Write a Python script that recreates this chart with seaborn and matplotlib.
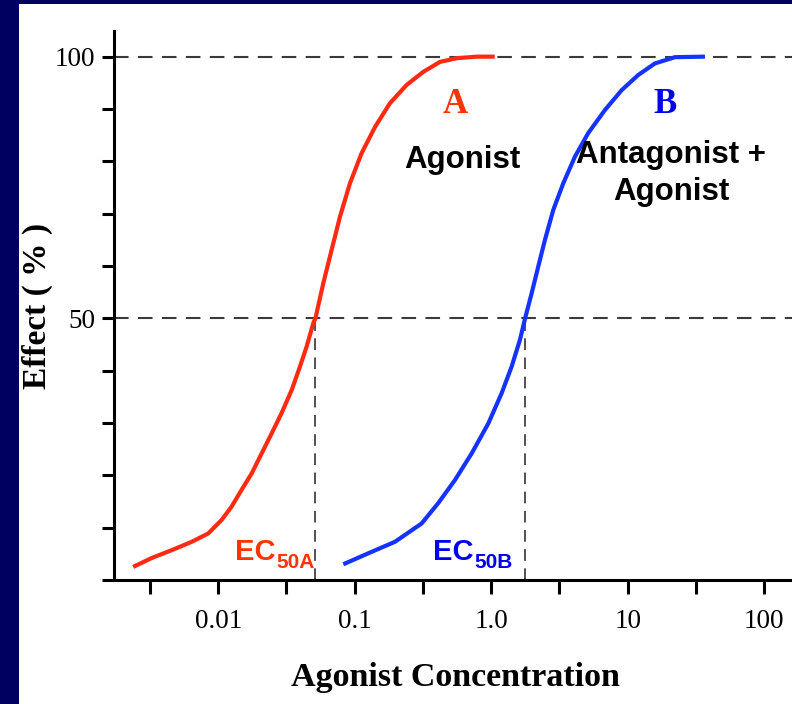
import numpy as np
import pandas as pd
import matplotlib
matplotlib.use("Agg")
import matplotlib.pyplot as plt
import seaborn as sns
from matplotlib.patches import Rectangle
from matplotlib.ticker import FixedLocator, FixedFormatter, NullLocator

# ---- data ----
conc_a = [0.00238, 0.00325, 0.00456, 0.00639, 0.00845, 0.0106, 0.0125, 0.0148,
          0.0176, 0.0208, 0.0246, 0.0291, 0.0345, 0.0397, 0.0444, 0.0497,
          0.0515, 0.0588, 0.0677, 0.0779, 0.0922, 0.112, 0.141, 0.181,
          0.240, 0.318, 0.421, 0.558, 0.782, 1.06]
effect_a = [2.5, 4.2, 5.7, 7.3, 8.9, 11.5, 14.0, 17.2,
            20.4, 24.2, 28.0, 31.9, 36.3, 40.8, 44.6, 49.1,
            50.0, 56.7, 63.1, 69.4, 75.8, 81.5, 86.6, 91.1,
            94.6, 97.1, 99.0, 99.7, 100, 100]

conc_b = [0.0824, 0.1256, 0.197, 0.309, 0.409, 0.542, 0.719, 0.951,
          1.192, 1.411, 1.623, 1.77, 1.977, 2.21, 2.474, 2.846,
          3.369, 4.105, 5.135, 6.807, 9.023, 11.94, 15.82, 22.18, 36.78]
effect_b = [3.0, 5.1, 7.3, 10.8, 14.7, 19.1, 24.2, 29.9,
            35.7, 40.8, 45.9, 50.0, 54.8, 59.9, 65.0, 70.7,
            75.8, 80.9, 85.4, 89.8, 93.6, 96.5, 98.7, 99.9, 100]

ec50 = [0.0515, 1.77]
ref_levels = [50, 100]
x_tick_values = [0.00316, 0.01, 0.0316, 0.1, 0.316, 1, 3.16, 10, 31.6, 100]
x_tick_labels = ["", "0.01", "", "0.1", "", "1.0", "", "10", "", "100"]
y_tick_values = [0, 10, 20, 30, 40, 50, 60, 70, 80, 90, 100]
y_tick_labels = ["", "", "", "", "", "50", "", "", "", "", "100"]

RED = "#ff2a12"
RED_T = "#ff3300"
BLUE = "#1433ff"
BLUE_T = "#0000ee"
NAVY = "#000060"

sns.set_style("ticks")
plt.rcParams["font.family"] = ["Liberation Serif", "DejaVu Serif"]

fig = plt.figure(figsize=(7.92, 7.04), dpi=100, facecolor=NAVY)
fig.add_artist(Rectangle((19 / 792, 0), 1, 700 / 704, transform=fig.transFigure,
                         facecolor="white", edgecolor="none", zorder=0))

ax = fig.add_axes([114 / 792, 1 - 580 / 704, (800 - 114) / 792, (580 - 31) / 704])
ax.set_facecolor("white")

df = pd.DataFrame({
    "conc": conc_a + conc_b,
    "effect": effect_a + effect_b,
    "curve": ["A"] * len(conc_a) + ["B"] * len(conc_b),
})

for lvl in ref_levels:
    ax.axhline(lvl, color="#3a3a3a", lw=1.5, ls=(0, (7, 4.5)), zorder=1)
ax.vlines(ec50, 0, 50, color="#333333", lw=1.2, linestyles=[(0, (7, 4.5))], zorder=1)

sns.lineplot(data=df, x="conc", y="effect", hue="curve",
             palette={"A": RED, "B": BLUE}, lw=3, legend=False,
             estimator=None, ax=ax, zorder=3)
for ln in ax.lines:
    ln.set_solid_joinstyle("round")
    ln.set_solid_capstyle("butt")

ax.set_xscale("log")
ax.set_xlim(10 ** -2.764, 10 ** 2.262)
ax.set_ylim(0, 104.9)

ax.xaxis.set_major_locator(FixedLocator(x_tick_values))
ax.xaxis.set_major_formatter(FixedFormatter(x_tick_labels))
ax.xaxis.set_minor_locator(NullLocator())
ax.yaxis.set_major_locator(FixedLocator(y_tick_values))
ax.yaxis.set_major_formatter(FixedFormatter(y_tick_labels))

for s in ["top", "right"]:
    ax.spines[s].set_visible(False)
for s in ["left", "bottom"]:
    ax.spines[s].set_linewidth(2.2)
    ax.spines[s].set_color("black")

ax.tick_params(axis="y", direction="out", length=8.6, width=2.2, pad=5,
               labelsize=19.5, colors="black")
ax.tick_params(axis="x", direction="out", length=10, width=2.2, pad=11,
               labelsize=19.5, colors="black")

ax.set_xlabel("Agonist Concentration", fontsize=24.5, fontweight="bold",
              color="black")
ax.xaxis.set_label_coords(0.497, -0.149)
ax.xaxis.label.set_va("top")
ax.set_ylabel("Effect ( % )", fontsize=24, fontweight="bold", color="black")
ax.yaxis.set_label_coords((37 - 114) / 686, 0.5)
ax.yaxis.label.set_va("center")

# curve letters
ax.text(0.542, 89.3, "A", color=RED_T, fontsize=25, fontweight="bold",
        ha="center", va="baseline")
ax.text(18.7, 89.3, "B", color=BLUE_T, fontsize=25, fontweight="bold",
        ha="center", va="baseline")

sans = ["Liberation Sans", "DejaVu Sans"]
ax.text(0.609, 78.7, "Agonist", family=sans, fontsize=22.5, fontweight="bold",
        color="black", ha="center", va="baseline")
ax.text(20.7, 72.6, "Antagonist +\nAgonist", family=sans, fontsize=22.5,
        fontweight="bold", color="black", ha="center", va="baseline",
        linespacing=1.3, multialignment="center")

# EC50 labels
for x_anchor, sub, col in [(0.0262, "50A", RED_T), (0.741, "50B", BLUE_T)]:
    ax.text(x_anchor, 3.82, "EC", family=sans, fontsize=21, fontweight="bold",
            color=col, ha="right", va="baseline")
    ax.annotate(sub, xy=(x_anchor, 3.82), xytext=(0.5, -5.8),
                textcoords="offset points", family=sans, fontsize=15,
                fontweight="bold", color=col, ha="left", va="baseline")

fig.savefig("out.png", dpi=100, facecolor=NAVY)
